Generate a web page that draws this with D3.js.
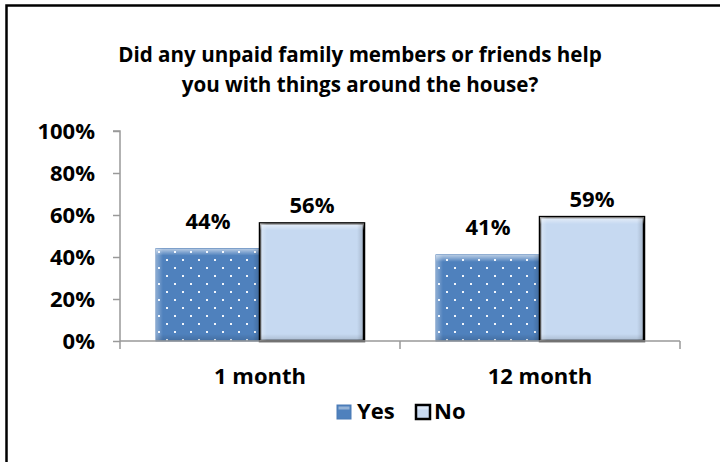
<!DOCTYPE html>
<html>
<head>
<meta charset="utf-8">
<script src="https://cdn.jsdelivr.net/npm/d3@7"></script>
<style>
  html, body { margin: 0; padding: 0; background: #fff; }
  svg { display: block; font-family: "Open Sans", Lato, sans-serif; font-weight: 700; }
</style>
</head>
<body>
<svg id="chart" width="720" height="462"></svg>
<script>
// Survey responses by follow-up period
const categories = ["1 month", "12 month"];
const seriesNames = ["Yes", "No"];
const yesValues = [44, 41];
const noValues = [56, 59];
const yTicks = [0, 20, 40, 60, 80, 100];
const titleLines = ["Did any unpaid family members or friends help", "you with things around the house?"];

const svg = d3.select("#chart");

// outer frame (runs past the right and bottom edges of the page)
svg.append("rect").attr("x", 6.5).attr("y", 5.5).attr("width", 730).attr("height", 470)
  .attr("fill", "#fff").attr("stroke", "#000").attr("stroke-width", 2.5);

const defs = svg.append("defs");

// dotted fill for "Yes"
const pat = defs.append("pattern").attr("id", "dots").attr("patternUnits", "userSpaceOnUse")
  .attr("width", 16).attr("height", 16).attr("x", 155).attr("y", 0);
pat.append("rect").attr("width", 16).attr("height", 16).attr("fill", "#4f81bd");
pat.append("rect").attr("x", 3).attr("y", 3).attr("width", 2).attr("height", 2).attr("fill", "#f2f6fc");
pat.append("rect").attr("x", 11).attr("y", 11).attr("width", 2).attr("height", 2).attr("fill", "#f2f6fc");

// bevel shading gradients
const gTop = defs.append("linearGradient").attr("id", "bevTop").attr("x1", 0).attr("y1", 0).attr("x2", 0).attr("y2", 1);
gTop.append("stop").attr("offset", 0).attr("stop-color", "#fff").attr("stop-opacity", 0.6);
gTop.append("stop").attr("offset", 1).attr("stop-color", "#fff").attr("stop-opacity", 0);
const gL = defs.append("linearGradient").attr("id", "bevLeft").attr("x1", 0).attr("y1", 0).attr("x2", 1).attr("y2", 0);
gL.append("stop").attr("offset", 0).attr("stop-color", "#fff").attr("stop-opacity", 0.35);
gL.append("stop").attr("offset", 1).attr("stop-color", "#fff").attr("stop-opacity", 0);
const gR = defs.append("linearGradient").attr("id", "bevRight").attr("x1", 0).attr("y1", 0).attr("x2", 1).attr("y2", 0);
gR.append("stop").attr("offset", 0).attr("stop-color", "#000").attr("stop-opacity", 0);
gR.append("stop").attr("offset", 1).attr("stop-color", "#000").attr("stop-opacity", 0.18);
const gB = defs.append("linearGradient").attr("id", "bevBottom").attr("x1", 0).attr("y1", 0).attr("x2", 0).attr("y2", 1);
gB.append("stop").attr("offset", 0).attr("stop-color", "#000").attr("stop-opacity", 0);
gB.append("stop").attr("offset", 1).attr("stop-color", "#000").attr("stop-opacity", 0.15);

// title
svg.append("text").attr("x", 360).attr("text-anchor", "middle").attr("font-size", 20.6)
  .selectAll("tspan").data(titleLines).join("tspan")
  .attr("x", 360).attr("y", (d, i) => 62 + i * 30).text(d => d);

const plotLeft = 120, plotRight = 680, plotTop = 131, plotBottom = 341;
const x0 = d3.scaleBand().domain(categories).range([plotLeft, plotRight]).paddingInner(0).paddingOuter(0);
const x1 = d3.scaleBand().domain(seriesNames).range([36, 280 - 36]).padding(0);
const y = d3.scaleLinear().domain([0, 100]).range([plotBottom, plotTop]);

// y axis
const yAxis = svg.append("g").attr("transform", `translate(${plotLeft},0)`)
  .call(d3.axisLeft(y).tickValues(yTicks).tickSize(7).tickPadding(18).tickFormat(d => d + "%"));
yAxis.select(".domain").attr("stroke", "#999").attr("stroke-width", 1.5).attr("d", `M-7,${plotTop}H0V${plotBottom}`);
yAxis.selectAll(".tick line").attr("stroke", "#999").attr("stroke-width", 1.5);
yAxis.selectAll(".tick text").attr("font-size", 22).attr("fill", "#000").attr("dy", "0.36em")
  .attr("font-family", "'Open Sans', sans-serif").attr("font-weight", 700);

// bars
const data = categories.map((c, i) => ({ cat: c, values: [
  { key: "Yes", v: yesValues[i] }, { key: "No", v: noValues[i] } ] }));

const groups = svg.append("g").selectAll("g").data(data).join("g")
  .attr("transform", d => `translate(${x0(d.cat)},0)`);

const bars = groups.selectAll("g.bar").data(d => d.values).join("g").attr("class", "bar");

function bevel(sel, bw) {
  sel.each(function (d) {
    const g = d3.select(this);
    const bx = x1(d.key), by = y(d.v), bh = plotBottom - y(d.v);
    const e = 7;
    g.append("rect").attr("x", bx).attr("y", by).attr("width", bw).attr("height", e).attr("fill", "url(#bevTop)");
    g.append("rect").attr("x", bx).attr("y", by).attr("width", e).attr("height", bh).attr("fill", "url(#bevLeft)");
    g.append("rect").attr("x", bx + bw - e).attr("y", by).attr("width", e).attr("height", bh).attr("fill", "url(#bevRight)");
    g.append("rect").attr("x", bx).attr("y", plotBottom - e).attr("width", bw).attr("height", e).attr("fill", "url(#bevBottom)");
  });
}

bars.append("rect")
  .attr("x", d => x1(d.key)).attr("y", d => y(d.v))
  .attr("width", x1.bandwidth()).attr("height", d => plotBottom - y(d.v))
  .attr("fill", d => d.key === "Yes" ? "url(#dots)" : "#c6d9f1")
  .attr("stroke", d => d.key === "Yes" ? "#4a7ab5" : "#000")
  .attr("stroke-width", d => d.key === "Yes" ? 1 : 2.5);
bars.call(bevel, x1.bandwidth());

// value labels
bars.append("text").attr("x", d => x1(d.key) + x1.bandwidth() / 2)
  .attr("y", d => y(d.v) - (d.key === "Yes" ? 20 : 10))
  .attr("text-anchor", "middle").attr("font-size", 22).text(d => d.v + "%");

// x axis
svg.append("path").attr("d", `M${plotLeft},${plotBottom}H${plotRight}`).attr("stroke", "#999").attr("stroke-width", 1.5).attr("fill", "none");
svg.append("g").selectAll("line").data([plotLeft, x0(categories[1]), plotRight]).join("line")
  .attr("x1", d => d).attr("x2", d => d).attr("y1", plotBottom).attr("y2", plotBottom + 8)
  .attr("stroke", "#999").attr("stroke-width", 1.5);
svg.append("g").selectAll("text").data(categories).join("text")
  .attr("x", d => x0(d) + x0.bandwidth() / 2).attr("y", 384)
  .attr("text-anchor", "middle").attr("font-size", 22).text(d => d);

// legend
const legend = svg.append("g");
const legItems = [
  { key: "Yes", x: 337, fill: "#4f81bd", stroke: "#4a7ab5", sw: 1 },
  { key: "No", x: 416, fill: "#c6d9f1", stroke: "#000", sw: 2.5 }
];
const li = legend.selectAll("g").data(legItems).join("g");
li.append("rect").attr("x", d => d.x).attr("y", 405).attr("width", 14).attr("height", 14)
  .attr("fill", d => d.fill).attr("stroke", d => d.stroke).attr("stroke-width", d => d.sw);
li.append("rect").attr("x", d => d.x + 1.5).attr("y", 406.5).attr("width", 11).attr("height", 3).attr("fill", "#fff").attr("opacity", 0.4);
li.append("text").attr("x", d => d.x + (d.key === "Yes" ? 20 : 18)).attr("y", 419)
  .attr("font-size", 22).text(d => d.key);
</script>
</body>
</html>
